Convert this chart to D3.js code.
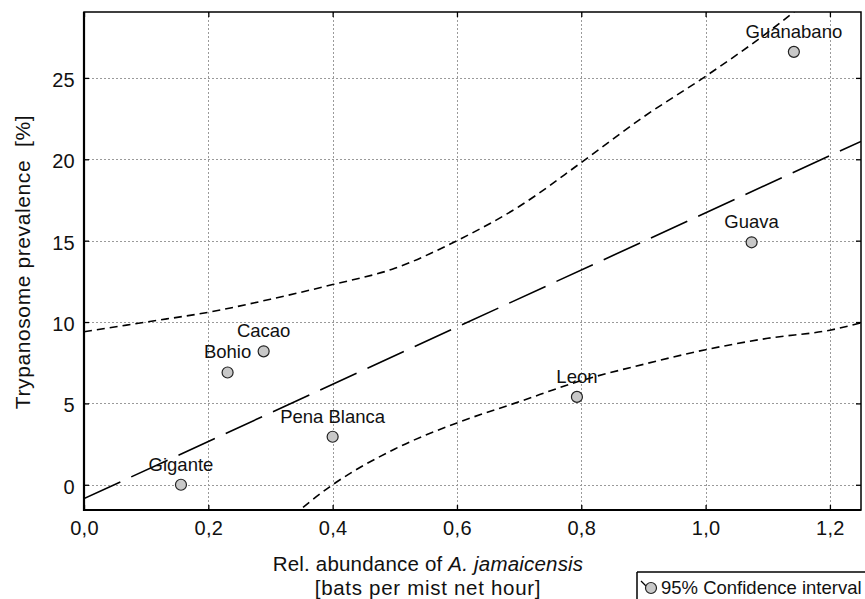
<!DOCTYPE html>
<html>
<head>
<meta charset="utf-8">
<script src="https://cdn.jsdelivr.net/npm/d3@7"></script>
<style>
  html, body { margin: 0; padding: 0; background: #fff; }
  svg { display: block; font-family: "Liberation Sans", Arial, sans-serif; }
</style>
</head>
<body>
<svg id="chart" width="865" height="599"></svg>
<script>
// ---- data ----
const sites = ["Gigante", "Bohio", "Cacao", "Pena Blanca", "Leon", "Guava", "Guanabano"];
const abundance = [0.156, 0.231, 0.289, 0.400, 0.793, 1.074, 1.142];
const prevalence = [0.0, 6.9, 8.2, 2.95, 5.4, 14.9, 26.6];

const xTicks = [0, 0.2, 0.4, 0.6, 0.8, 1.0, 1.2];
const yTicks = [0, 5, 10, 15, 20, 25];

// fitted regression line
const regX = [0, 1.25];
const regY = [-0.85, 21.1];

// 95% confidence band, upper and lower
const ciUpperX = [0, 0.1, 0.2, 0.3, 0.4, 0.5, 0.6, 0.7, 0.8, 0.9, 1.0, 1.1, 1.16];
const ciUpperY = [9.4, 10.0, 10.6, 11.4, 12.3, 13.3, 15.0, 17.1, 19.8, 22.6, 25.1, 27.8, 29.6];
const ciLowerX = [0.32, 0.4, 0.5, 0.6, 0.7, 0.8, 0.9, 1.0, 1.1, 1.2, 1.25];
const ciLowerY = [-2.4, 0.0, 2.2, 3.8, 5.1, 6.4, 7.4, 8.3, 9.0, 9.5, 9.95];

const xTitle1a = "Rel. abundance of ";
const xTitle1b = "A. jamaicensis";
const xTitle2 = "[bats per mist net hour]";
const yTitle = "Trypanosome prevalence  [%]";
const legendText = "95% Confidence interval";

// ---- layout ----
const svg = d3.select("#chart");
const L = 84, R = 861, T = 12, B = 510;
const x = d3.scaleLinear().domain([0, 1.25]).range([L, R]);
const y = d3.scaleLinear().domain([-1.55, 29.05]).range([B, T]);
const commaFmt = d => d3.format(".1f")(d).replace(".", ",");

svg.append("defs").append("clipPath").attr("id", "clip")
  .append("rect").attr("x", L).attr("y", T).attr("width", R - L).attr("height", B - T);

// grid
const grid = svg.append("g").attr("stroke", "#9a9a9a").attr("stroke-width", 1).attr("stroke-dasharray", "2,2");
grid.selectAll("line.gx").data(xTicks.slice(1)).join("line")
  .attr("x1", d => Math.round(x(d)) + 0.5).attr("x2", d => Math.round(x(d)) + 0.5)
  .attr("y1", T).attr("y2", B);
grid.selectAll("line.gy").data(yTicks).join("line")
  .attr("x1", L).attr("x2", R)
  .attr("y1", d => Math.round(y(d)) + 0.5).attr("y2", d => Math.round(y(d)) + 0.5);

// lines
const plot = svg.append("g").attr("clip-path", "url(#clip)");
const line = d3.line().x(d => x(d[0])).y(d => y(d[1]));
const lineSmooth = d3.line().x(d => x(d[0])).y(d => y(d[1])).curve(d3.curveMonotoneX);

plot.append("path")
  .datum(regX.map((v, i) => [v, regY[i]]))
  .attr("d", line).attr("fill", "none").attr("stroke", "#000")
  .attr("stroke-width", 1.6).attr("stroke-dasharray", "40,12");

[[ciUpperX, ciUpperY], [ciLowerX, ciLowerY]].forEach(([xs, ys]) => {
  plot.append("path")
    .datum(xs.map((v, i) => [v, ys[i]]))
    .attr("d", lineSmooth).attr("fill", "none").attr("stroke", "#000")
    .attr("stroke-width", 1.6).attr("stroke-dasharray", "8,5");
});

// axes
const axB = svg.append("g").attr("transform", `translate(0,${B})`)
  .call(d3.axisBottom(x).tickValues(xTicks).tickFormat(commaFmt).tickSizeInner(-5).tickSizeOuter(0).tickPadding(11));
const axL = svg.append("g").attr("transform", `translate(${L},0)`)
  .call(d3.axisLeft(y).tickValues(yTicks).tickFormat(d3.format("d")).tickSizeInner(-5).tickSizeOuter(0).tickPadding(9));
const axT = svg.append("g").attr("transform", `translate(0,${T})`)
  .call(d3.axisTop(x).tickValues(xTicks).tickFormat("").tickSizeInner(-5).tickSizeOuter(0));
const axR = svg.append("g").attr("transform", `translate(${R},0)`)
  .call(d3.axisRight(y).tickValues(yTicks).tickFormat("").tickSizeInner(-5).tickSizeOuter(0));
[axB, axL, axT, axR].forEach(a => {
  a.select(".domain").remove();
  a.selectAll(".tick line").attr("stroke", "#000").attr("stroke-width", 1.3);
  a.selectAll("text").attr("fill", "#111").style("font-size", "20px")
    .style("letter-spacing", "0.3px").style("font-family", "Liberation Sans, Arial, sans-serif");
});
axL.selectAll("text").attr("dy", "0.42em");

// frame
svg.append("rect").attr("x", L).attr("y", T).attr("width", R - L).attr("height", B - T)
  .attr("fill", "none").attr("stroke", "#000").attr("stroke-width", 1.5);
svg.append("line").attr("x1", L).attr("x2", L).attr("y1", T).attr("y2", B + 1)
  .attr("stroke", "#000").attr("stroke-width", 2.2);
svg.append("line").attr("x1", L - 1).attr("x2", R).attr("y1", B).attr("y2", B)
  .attr("stroke", "#000").attr("stroke-width", 2.2);

// points
const pts = svg.append("g");
pts.selectAll("circle").data(sites).join("circle")
  .attr("cx", (d, i) => x(abundance[i])).attr("cy", (d, i) => y(prevalence[i]))
  .attr("r", 5.5).attr("fill", "#c8c8c8").attr("stroke", "#222").attr("stroke-width", 1.2);
pts.selectAll("text").data(sites).join("text")
  .attr("x", (d, i) => x(abundance[i])).attr("y", (d, i) => y(prevalence[i]) - 14)
  .attr("text-anchor", "middle").style("font-size", "18.5px").attr("fill", "#111")
  .text(d => d);

// axis titles
const xt = svg.append("text").attr("x", 428).attr("y", 571).attr("text-anchor", "middle")
  .style("font-size", "20.5px").style("letter-spacing", "0.2px").attr("fill", "#111");
xt.append("tspan").text(xTitle1a);
xt.append("tspan").style("font-style", "italic").text(xTitle1b);
svg.append("text").attr("x", 428).attr("y", 595).attr("text-anchor", "middle")
  .style("font-size", "20.5px").style("letter-spacing", "0.7px").attr("fill", "#111").text(xTitle2);

svg.append("text").attr("transform", `translate(30,262) rotate(-90)`)
  .attr("text-anchor", "middle").style("font-size", "21px").style("letter-spacing", "0.6px")
  .style("white-space", "pre").attr("fill", "#111").text(yTitle);

// legend
const lg = svg.append("g").attr("transform", "translate(637,572)");
lg.append("line").attr("x1", 0).attr("x2", 240).attr("y1", 0).attr("y2", 0).attr("stroke", "#000").attr("stroke-width", 1.5);
lg.append("line").attr("x1", 0).attr("x2", 0).attr("y1", 0).attr("y2", 40).attr("stroke", "#000").attr("stroke-width", 1.5);
lg.append("line").attr("x1", 4).attr("x2", 10).attr("y1", 9).attr("y2", 15).attr("stroke", "#000").attr("stroke-width", 1.2);
lg.append("circle").attr("cx", 14).attr("cy", 16).attr("r", 5.5).attr("fill", "#c8c8c8").attr("stroke", "#222").attr("stroke-width", 1.2);
lg.append("text").attr("x", 24).attr("y", 22).style("font-size", "18.5px").attr("fill", "#111").text(legendText);
</script>
</body>
</html>
